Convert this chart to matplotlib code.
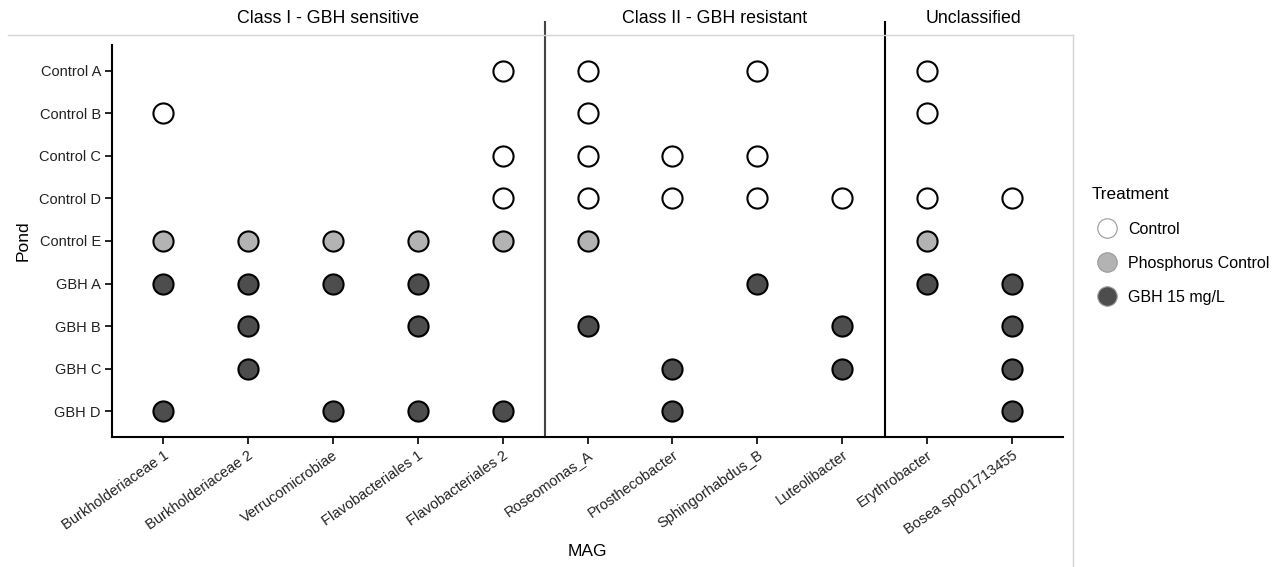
import matplotlib.pyplot as plt
from matplotlib.lines import Line2D

plt.rcParams['font.family'] = ['Liberation Sans', 'DejaVu Sans']

mags = ['Burkholderiaceae 1', 'Burkholderiaceae 2', 'Verrucomicrobiae',
        'Flavobacteriales 1', 'Flavobacteriales 2', 'Roseomonas_A',
        'Prosthecobacter', 'Sphingorhabdus_B', 'Luteolibacter',
        'Erythrobacter', 'Bosea sp001713455']
ponds = ['Control A', 'Control B', 'Control C', 'Control D', 'Control E',
         'GBH A', 'GBH B', 'GBH C', 'GBH D']
pond_treatment = ['Control', 'Control', 'Control', 'Control', 'Phosphorus Control',
                  'GBH 15 mg/L', 'GBH 15 mg/L', 'GBH 15 mg/L', 'GBH 15 mg/L']

# MAGs detected in each pond
present = {
    'Control A': ['Flavobacteriales 2', 'Roseomonas_A', 'Sphingorhabdus_B', 'Erythrobacter'],
    'Control B': ['Burkholderiaceae 1', 'Roseomonas_A', 'Erythrobacter'],
    'Control C': ['Flavobacteriales 2', 'Roseomonas_A', 'Prosthecobacter', 'Sphingorhabdus_B'],
    'Control D': ['Flavobacteriales 2', 'Roseomonas_A', 'Prosthecobacter', 'Sphingorhabdus_B',
                  'Luteolibacter', 'Erythrobacter', 'Bosea sp001713455'],
    'Control E': ['Burkholderiaceae 1', 'Burkholderiaceae 2', 'Verrucomicrobiae',
                  'Flavobacteriales 1', 'Flavobacteriales 2', 'Roseomonas_A', 'Erythrobacter'],
    'GBH A': ['Burkholderiaceae 1', 'Burkholderiaceae 2', 'Verrucomicrobiae',
              'Flavobacteriales 1', 'Sphingorhabdus_B', 'Erythrobacter', 'Bosea sp001713455'],
    'GBH B': ['Burkholderiaceae 2', 'Flavobacteriales 1', 'Roseomonas_A',
              'Luteolibacter', 'Bosea sp001713455'],
    'GBH C': ['Burkholderiaceae 2', 'Prosthecobacter', 'Luteolibacter', 'Bosea sp001713455'],
    'GBH D': ['Burkholderiaceae 1', 'Verrucomicrobiae', 'Flavobacteriales 1',
              'Flavobacteriales 2', 'Prosthecobacter', 'Bosea sp001713455'],
}

groups = ['Class I - GBH sensitive', 'Class II - GBH resistant', 'Unclassified']
group_sizes = [5, 4, 2]

treatments = ['Control', 'Phosphorus Control', 'GBH 15 mg/L']
fills = {'Control': 'white', 'Phosphorus Control': '#b3b3b3', 'GBH 15 mg/L': '#4d4d4d'}

fig = plt.figure(figsize=(12.81, 5.67), dpi=100)
ax = fig.add_axes([112 / 1281, 1 - 437 / 567, (1063 - 112) / 1281, (437 - 45) / 567])

for pi, pond in enumerate(ponds):
    xs = [mags.index(m) for m in present[pond]]
    ax.scatter(xs, [pi] * len(xs), s=210, c=fills[pond_treatment[pi]],
               edgecolors='black', linewidths=1.5, zorder=3)

ax.set_xlim(-0.6, 10.6)
ax.set_ylim(8.6, -0.6)
ax.set_xticks(range(len(mags)))
ax.set_xticklabels(mags, rotation=35, ha='right', rotation_mode='anchor', fontsize=10.5)
ax.set_yticks(range(len(ponds)))
ax.set_yticklabels(ponds, fontsize=10.5)
ax.tick_params(length=5, width=1.2, color='black', labelcolor='#222222', pad=3)
for side in ['top', 'right']:
    ax.spines[side].set_visible(False)
for side in ['left', 'bottom']:
    ax.spines[side].set_linewidth(1.5)
ax.set_xlabel('MAG', fontsize=12.5, labelpad=5)
ax.set_ylabel('Pond', fontsize=12.5, labelpad=6)

# group separators and headers
edges = [-0.5]
for n in group_sizes:
    edges.append(edges[-1] + n)
for i, sep in enumerate(edges[1:-1]):
    ax.plot([sep, sep], [8.6, -1.15], color='#444444' if i == 0 else 'black',
            lw=1.5, clip_on=False)
bounds = [-0.6] + edges[1:-1] + [10.6]
for i, name in enumerate(groups):
    ax.text((bounds[i] + bounds[i + 1]) / 2, -1.23, name, ha='center', va='center',
            fontsize=12.8)

# thin frame lines around the panel
fig.add_artist(Line2D([8 / 1281, 1073 / 1281], [1 - 35 / 567] * 2, color='#d4d4d4', lw=1))
fig.add_artist(Line2D([1073 / 1281] * 2, [1 - 35 / 567, 0], color='#d4d4d4', lw=1))

handles = [Line2D([], [], marker='o', ls='', markersize=14, markerfacecolor=fills[t],
                  markeredgecolor='#999999', markeredgewidth=0.8, label=t)
           for t in treatments]
leg = fig.legend(handles=handles, title='Treatment', loc='upper left',
                 bbox_to_anchor=(1085 / 1281, 1 - 181 / 567), frameon=False,
                 fontsize=11.5, title_fontsize=12.3, handletextpad=0.3,
                 labelspacing=1.2, borderaxespad=0)
leg._legend_box.align = 'left'

fig.savefig('out.png', dpi=100)
